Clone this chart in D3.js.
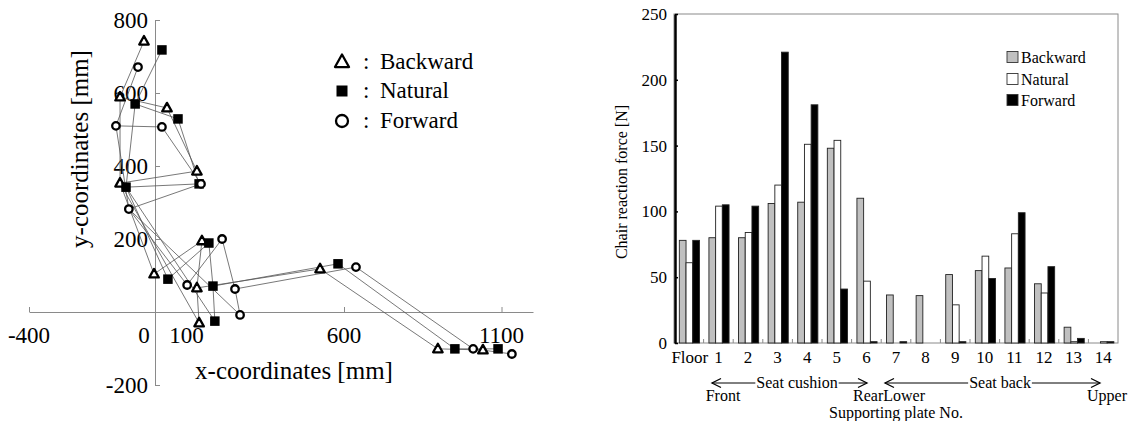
<!DOCTYPE html>
<html lang="en">
<head>
<meta charset="UTF-8" />
<title>Posture and chair reaction force</title>
<script src="https://d3js.org/d3.v7.min.js"></script>
<style>
  body { margin: 0; background: #fff; }
  svg { display: block; font-family: "Liberation Serif", "Times New Roman", serif; }
</style>
</head>
<body>
<div id="chart"></div>
<script>
// ---- left panel: body landmarks (mm) for the three postures ----
const landmarks = ["head", "shoulder", "elbow", "wrist", "hip", "seatFront", "seatTop", "seatMid", "seatBottom", "knee", "ankle", "toe"];
const backwardX = [-35, -111, 38, 133, -111, -3, 149, 133, 140, 524, 898, 1041];
const backwardY = [742, 589, 559, 386, 353, 104, 195, 66, -30, 118, -101, -104];
const naturalX = [22, -63, 73, 140, -92, 41, 171, 184, 190, 581, 952, 1089];
const naturalY = [718, 570, 529, 351, 342, 90, 189, 71, -25, 132, -101, -101];
const forwardX = [-54, -124, 22, 146, -83, 102, 213, 254, 270, 638, 1010, 1133];
const forwardY = [671, 510, 507, 351, 282, 74, 200, 63, -8, 123, -101, -115];
const postures = ["Backward", "Natural", "Forward"];
const xTickVals = [-400, 600, 1100];
const xTickLabels = ["-400", "0", "100", "600", "1100"];
const xTickLabelVals = [-400, -35, 100, 600, 1100];
const yTickVals = [800, 600, 400, 200, -200];

// ---- right panel: chair reaction force [N] ----
const plates = ["Floor", "1", "2", "3", "4", "5", "6", "7", "8", "9", "10", "11", "12", "13", "14"];
const backwardForce = [78, 80, 80, 106, 107, 148, 110, 36.5, 36, 52, 55, 57, 45, 12, 0];
const naturalForce = [61, 104, 84, 120, 151, 154, 47, 0, 0, 29, 66, 83, 38, 1, 1];
const forwardForce = [78, 105, 104, 221, 181, 41, 1, 1, 0, 1, 49, 99, 58, 3.5, 1];
const forceTicks = [0, 50, 100, 150, 200, 250];

const W = 1137, H = 421;
const svg = d3.select("#chart").append("svg")
  .attr("width", W).attr("height", H)
  .attr("viewBox", [0, 0, W, H]);

// ================= LEFT PANEL =================
const xL = d3.scaleLinear().domain([-400, 1200]).range([29, 533]);
const yL = d3.scaleLinear().domain([-200, 800]).range([385, 20]);
const axisColor = "#8a8a8a";

const left = svg.append("g");

const xAxisL = left.append("g")
  .attr("transform", `translate(0,${yL(0)})`)
  .call(d3.axisBottom(xL).tickValues(xTickVals).tickSizeInner(-5).tickSizeOuter(0).tickFormat(""));
const yAxisL = left.append("g")
  .attr("transform", `translate(${xL(0)},0)`)
  .call(d3.axisRight(yL).tickValues(yTickVals).tickSizeInner(5).tickSizeOuter(0).tickFormat(""));
[xAxisL, yAxisL].forEach(a => {
  a.select(".domain").attr("stroke", axisColor);
  a.selectAll(".tick line").attr("stroke", axisColor);
});

left.selectAll("text.xtl").data(xTickLabels).join("text")
  .attr("class", "xtl")
  .attr("x", (d, i) => xL(xTickLabelVals[i]))
  .attr("y", yL(0) + 31)
  .attr("text-anchor", "middle")
  .attr("font-size", 23)
  .text(d => d);

left.selectAll("text.ytl").data(yTickVals).join("text")
  .attr("class", "ytl")
  .attr("x", xL(0) - 7)
  .attr("y", d => yL(d))
  .attr("dy", "0.35em")
  .attr("text-anchor", "end")
  .attr("font-size", 23)
  .text(d => d);

left.append("text")
  .attr("x", 294).attr("y", 379)
  .attr("text-anchor", "middle")
  .attr("font-size", 25)
  .text("x-coordinates [mm]");
left.append("text")
  .attr("transform", "translate(88,149) rotate(-90)")
  .attr("text-anchor", "middle")
  .attr("font-size", 25)
  .text("y-coordinates [mm]");

// segments of the stick figure (landmark index pairs)
const links = [[0, 1], [1, 2], [2, 3], [3, 4], [1, 4], [4, 5], [5, 6], [6, 7], [7, 8], [4, 8], [7, 9], [9, 10], [10, 11]];
const figures = [
  { name: "Backward", xs: backwardX, ys: backwardY },
  { name: "Natural", xs: naturalX, ys: naturalY },
  { name: "Forward", xs: forwardX, ys: forwardY }
];

const lineG = left.append("g");
figures.forEach(f => {
  lineG.selectAll(null).data(links).join("line")
    .attr("x1", d => xL(f.xs[d[0]])).attr("y1", d => yL(f.ys[d[0]]))
    .attr("x2", d => xL(f.xs[d[1]])).attr("y2", d => yL(f.ys[d[1]]))
    .attr("stroke", "#555").attr("stroke-width", 0.8);
});

function drawMarker(g, name, cx, cy, s) {
  if (name === "Backward") {
    const h = s * 0.9;
    g.append("path")
      .attr("d", `M${cx},${cy - h * 0.6}L${cx + s / 2},${cy + h * 0.4}L${cx - s / 2},${cy + h * 0.4}Z`)
      .attr("fill", "#fff").attr("stroke", "#000").attr("stroke-width", 2.3)
      .attr("stroke-linejoin", "round");
  } else if (name === "Natural") {
    g.append("rect")
      .attr("x", cx - s / 2).attr("y", cy - s / 2)
      .attr("width", s).attr("height", s)
      .attr("fill", "#000");
  } else {
    g.append("circle")
      .attr("cx", cx).attr("cy", cy).attr("r", s / 2 - 1)
      .attr("fill", "#fff").attr("stroke", "#000").attr("stroke-width", 2.3);
  }
}

const markG = left.append("g");
figures.forEach(f => {
  f.xs.forEach((x, i) => drawMarker(markG, f.name, xL(x), yL(f.ys[i]), 9.5));
});

// legend
const legRows = [62, 91, 121];
postures.forEach((p, i) => {
  drawMarker(left, p, 342, legRows[i], p === "Natural" ? 11 : 14);
  left.append("text")
    .attr("x", 363).attr("y", legRows[i] + 7)
    .attr("font-size", 23).text(":");
  left.append("text")
    .attr("x", 380).attr("y", legRows[i] + 7)
    .attr("font-size", 23).text(p);
});

// ================= RIGHT PANEL =================
const xB = d3.scaleBand().domain(plates).range([674, 1118]);
const xInner = d3.scaleBand().domain(postures)
  .range([xB.bandwidth() * 0.18, xB.bandwidth() * 0.86]);
const yB = d3.scaleLinear().domain([0, 250]).range([343, 14]);

const right = svg.append("g");

right.append("rect")
  .attr("x", 674).attr("y", yB(250))
  .attr("width", 1118 - 674).attr("height", yB(0) - yB(250))
  .attr("fill", "none").attr("stroke", axisColor).attr("stroke-width", 1);

const fills = { Backward: "#c0c0c0", Natural: "#ffffff", Forward: "#000000" };
const series = { Backward: backwardForce, Natural: naturalForce, Forward: forwardForce };

const groups = right.selectAll("g.grp").data(plates).join("g")
  .attr("class", "grp")
  .attr("transform", d => `translate(${xB(d)},0)`);
groups.selectAll("rect").data((d, i) => postures.map(p => ({ p, v: series[p][i] }))).join("rect")
  .attr("x", d => xInner(d.p))
  .attr("y", d => yB(d.v))
  .attr("width", xInner.bandwidth())
  .attr("height", d => yB(0) - yB(d.v))
  .attr("fill", d => fills[d.p])
  .attr("stroke", "#222").attr("stroke-width", 0.9);

// category boundary ticks
const bounds = plates.slice(1).map(p => xB(p));
right.selectAll("line.bt").data(bounds).join("line")
  .attr("class", "bt")
  .attr("x1", d => d).attr("x2", d => d)
  .attr("y1", yB(0)).attr("y2", yB(0) - 4)
  .attr("stroke", axisColor);

const yAxisB = right.append("g")
  .attr("transform", "translate(675,0)")
  .call(d3.axisLeft(yB).tickValues(forceTicks).tickSizeInner(-3).tickSizeOuter(0).tickPadding(8));
yAxisB.select(".domain").attr("stroke", "#000").attr("stroke-width", 2.5);
yAxisB.selectAll(".tick line").attr("stroke", "#000").attr("stroke-width", 1.5);
yAxisB.selectAll(".tick text")
  .attr("font-family", "Liberation Serif, serif").attr("font-size", 17).attr("fill", "#000");

right.selectAll("text.xb").data(plates).join("text")
  .attr("class", "xb")
  .attr("x", d => xB(d) + xB.bandwidth() / 2 + (d === "Floor" ? 1 : 0))
  .attr("y", 363)
  .attr("text-anchor", "middle")
  .attr("font-size", 17)
  .text(d => d);

right.append("text")
  .attr("transform", "translate(627,182) rotate(-90)")
  .attr("text-anchor", "middle")
  .attr("font-size", 16)
  .text("Chair reaction force [N]");

// legend
const legB = [57, 79, 100];
postures.forEach((p, i) => {
  right.append("rect")
    .attr("x", 1007).attr("y", legB[i] - 5.5)
    .attr("width", 11).attr("height", 11)
    .attr("fill", fills[p]).attr("stroke", "#333").attr("stroke-width", 0.9);
  right.append("text")
    .attr("x", 1021).attr("y", legB[i] + 5.5)
    .attr("font-size", 16).text(p);
});

// region arrows
function regionArrow(x1, x2, y, label, cx) {
  const g = right.append("g");
  const t = g.append("text")
    .attr("x", cx).attr("y", y + 5)
    .attr("text-anchor", "middle")
    .attr("font-size", 16).text(label);
  const bb = t.node().getBBox();
  const gap = 1;
  g.append("line").attr("x1", x1).attr("x2", bb.x - gap).attr("y1", y).attr("y2", y)
    .attr("stroke", "#000").attr("stroke-width", 1);
  g.append("line").attr("x1", bb.x + bb.width + gap).attr("x2", x2).attr("y1", y).attr("y2", y)
    .attr("stroke", "#000").attr("stroke-width", 1);
  g.append("path").attr("d", `M${x1 + 9},${y - 4.5}L${x1},${y}L${x1 + 9},${y + 4.5}`)
    .attr("fill", "none").attr("stroke", "#000").attr("stroke-width", 1.3);
  g.append("path").attr("d", `M${x2 - 9},${y - 4.5}L${x2},${y}L${x2 - 9},${y + 4.5}`)
    .attr("fill", "none").attr("stroke", "#000").attr("stroke-width", 1.3);
}
regionArrow(712, 867, 383, "Seat cushion", 797);
regionArrow(885, 1100, 383, "Seat back", 1000);

right.append("text").attr("x", 723).attr("y", 401).attr("text-anchor", "middle")
  .attr("font-size", 16).text("Front");
right.append("text").attr("x", 853).attr("y", 401)
  .attr("font-size", 16).text("RearLower");
right.append("text").attr("x", 1127).attr("y", 401).attr("text-anchor", "end")
  .attr("font-size", 16).text("Upper");
right.append("text").attr("x", 896).attr("y", 418).attr("text-anchor", "middle")
  .attr("font-size", 16).text("Supporting plate No.");
</script>
</body>
</html>
